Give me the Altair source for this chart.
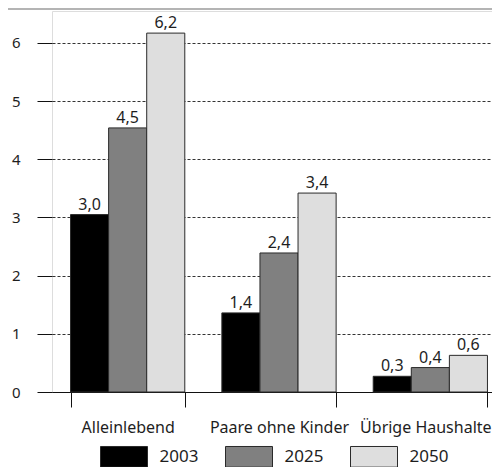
import altair as alt
import pandas as pd

categories = ["Alleinlebend", "Paare ohne Kinder", "Übrige Haushalte"]
years = ["2003", "2025", "2050"]
values_2003 = [3.05, 1.36, 0.27]
values_2025 = [4.54, 2.39, 0.42]
values_2050 = [6.17, 3.42, 0.63]
labels_2003 = ["3,0", "1,4", "0,3"]
labels_2025 = ["4,5", "2,4", "0,4"]
labels_2050 = ["6,2", "3,4", "0,6"]
y_ticks = [0, 1, 2, 3, 4, 5, 6]
colors = ["#000000", "#808080", "#dedede"]

rows = []
for yr, vals, labs in [("2003", values_2003, labels_2003),
                       ("2025", values_2025, labels_2025),
                       ("2050", values_2050, labels_2050)]:
    for c, v, l in zip(categories, vals, labs):
        rows.append({"Kategorie": c, "Jahr": yr, "Wert": v, "Label": l})
df = pd.DataFrame(rows)

FONT = "Noto Sans"
TXT = "#1e1e1e"
W, H = 440, 381
XRANGE = 454

x_enc = alt.X("Kategorie:N", sort=categories, title=None,
              scale=alt.Scale(range=[0, XRANGE], paddingInner=0.245, paddingOuter=0.1225),
              axis=alt.Axis(tickBand="extent", tickSize=15, tickColor="#111",
                            domainColor="#111", labelAngle=0, labelFontSize=16,
                            labelFont=FONT, labelColor=TXT, labelPadding=12,
                            labelOffset={"condition": {"test": "datum.value === 'Übrige Haushalte'",
                                                       "value": -5}, "value": 0},
                            grid=False))
xoff = alt.XOffset("Jahr:N", sort=years,
                   scale=alt.Scale(paddingInner=0, paddingOuter=0))
y_enc = alt.Y("Wert:Q", title=None,
              scale=alt.Scale(domain=[0, 6.55], nice=False, zero=True),
              axis=alt.Axis(values=y_ticks, format="d", domain=False, tickSize=15,
                            tickColor="#111", labelFontSize=15, labelFont=FONT,
                            labelColor=TXT, labelPadding=17,
                            grid=True, gridColor="#333", gridDash=[3, 2],
                            gridWidth=1))

bars = alt.Chart(df).mark_bar(stroke="#2a2a2a", strokeWidth=1).encode(
    x=x_enc,
    xOffset=xoff,
    y=y_enc,
    fill=alt.Fill("Jahr:N", sort=years,
                  scale=alt.Scale(domain=years, range=colors),
                  legend=alt.Legend(title=None, orient="none", direction="horizontal",
                                    columns=3, legendX=48, legendY=421.5,
                                    gridAlign="all",
                                    symbolType="M-1,-0.44H1V0.44H-1Z",
                                    symbolSize=2209, symbolStrokeColor="#2a2a2a",
                                    symbolStrokeWidth=1, labelOffset=11.6,
                                    columnPadding=24, labelFontSize=17,
                                    labelFont=FONT, labelColor=TXT)),
)

text = alt.Chart(df).mark_text(baseline="alphabetic", dy=-5, fontSize=16,
                               font=FONT, color=TXT).encode(
    x=alt.X("Kategorie:N", sort=categories),
    xOffset=alt.XOffset("Jahr:N", sort=years),
    y="Wert:Q",
    text="Label:N",
)

topline = alt.Chart(pd.DataFrame({"a": [0]})).mark_rule(
    color="#b4b4b4", strokeWidth=2).encode(
    x=alt.value(-44), x2=alt.value(W), y=alt.value(-2))

chart = alt.layer(bars, text, topline).properties(
    width=W, height=H,
    autosize=alt.AutoSizeParams(type="none"),
    padding={"left": 44, "top": 3, "right": 0, "bottom": 75},
).configure_view(stroke=None).configure(font=FONT)

chart.save("out.html", embed_options={"renderer": "svg", "actions": False})
